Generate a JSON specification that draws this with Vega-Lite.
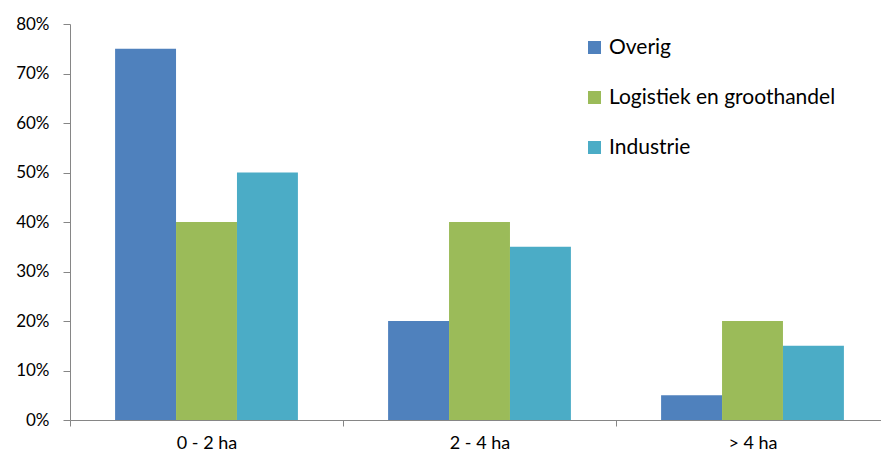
{
  "$schema": "https://vega.github.io/schema/vega-lite/v6.json",
  "autosize": "none",
  "width": 811,
  "height": 396,
  "padding": {"left": 70, "top": 24, "right": 0, "bottom": 39},
  "background": "white",
  "config": {
    "view": {"stroke": null},
    "font": "Lato",
    "axis": {"grid": false, "domainColor": "#868686", "tickColor": "#868686", "labelColor": "#000000", "labelFont": "Lato", "titleFont": "Lato"}
  },
  "data": {
    "values": [
      {"cat": "0 - 2 ha", "series": "Overig", "value": 0.75},
      {"cat": "0 - 2 ha", "series": "Logistiek en groothandel", "value": 0.40},
      {"cat": "0 - 2 ha", "series": "Industrie", "value": 0.50},
      {"cat": "2 - 4 ha", "series": "Overig", "value": 0.20},
      {"cat": "2 - 4 ha", "series": "Logistiek en groothandel", "value": 0.40},
      {"cat": "2 - 4 ha", "series": "Industrie", "value": 0.35},
      {"cat": "> 4 ha", "series": "Overig", "value": 0.05},
      {"cat": "> 4 ha", "series": "Logistiek en groothandel", "value": 0.20},
      {"cat": "> 4 ha", "series": "Industrie", "value": 0.15}
    ]
  },
  "mark": {"type": "bar"},
  "encoding": {
    "x": {
      "field": "cat", "type": "nominal", "sort": null,
      "scale": {"paddingInner": 0, "paddingOuter": 0, "range": [0, 819]},
      "axis": {"title": null, "labelAngle": 0, "labelFontSize": 18, "tickBand": "extent", "tickSize": 6, "labelPadding": 8}
    },
    "xOffset": {
      "field": "series", "type": "nominal", "sort": ["Overig", "Logistiek en groothandel", "Industrie"],
      "scale": {"paddingInner": 0, "paddingOuter": 0.74}
    },
    "y": {
      "field": "value", "type": "quantitative",
      "scale": {"domain": [0, 0.8], "nice": false},
      "axis": {"title": null, "format": ".0%", "values": [0, 0.1, 0.2, 0.3, 0.4, 0.5, 0.6, 0.7, 0.8], "labelFontSize": 17, "tickSize": 7, "labelPadding": 14}
    },
    "color": {
      "field": "series", "type": "nominal",
      "sort": ["Overig", "Logistiek en groothandel", "Industrie"],
      "scale": {"domain": ["Overig", "Logistiek en groothandel", "Industrie"], "range": ["#4F81BD", "#9BBB59", "#4BACC6"]},
      "legend": {"title": null, "orient": "none", "legendX": 514, "legendY": 13, "symbolType": "square", "symbolSize": 169, "symbolStrokeWidth": 0, "labelFontSize": 21, "labelLimit": 0, "labelColor": "#000000", "rowPadding": 28, "labelOffset": 4, "labelFont": "Lato"}
    }
  }
}
